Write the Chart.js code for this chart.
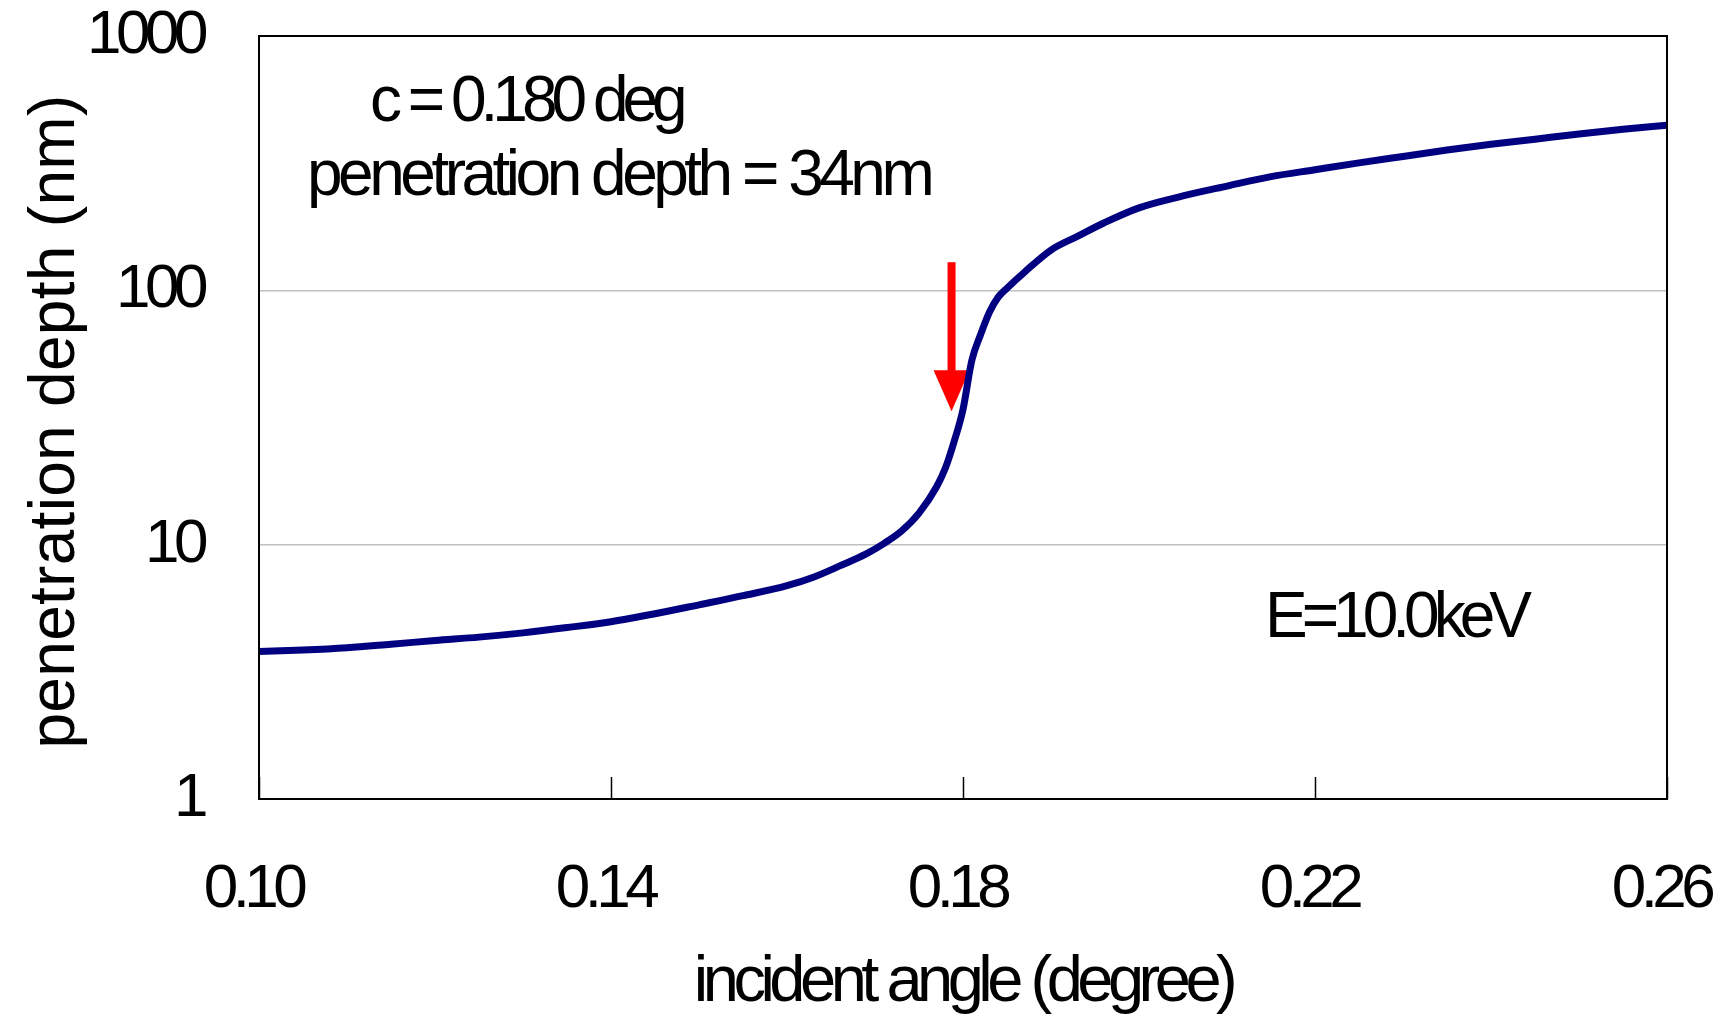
<!DOCTYPE html>
<html>
<head>
<meta charset="utf-8">
<script src="https://cdn.jsdelivr.net/npm/chart.js@4"></script>
<style>
  html, body { margin: 0; padding: 0; background: #fff; }
  #chart { display: block; }
</style>
</head>
<body>
<canvas id="chart" width="1722" height="1016"></canvas>
<script>
/* DATA */
const angles = [0.100, 0.105, 0.110, 0.115, 0.120, 0.125, 0.130, 0.135, 0.140, 0.145,
  0.150, 0.155, 0.160, 0.163, 0.166, 0.169, 0.171, 0.173, 0.175, 0.177,
  0.178, 0.179, 0.180, 0.181, 0.182, 0.183, 0.184, 0.185, 0.187, 0.190,
  0.193, 0.196, 0.200, 0.205, 0.210, 0.215, 0.220, 0.225, 0.230, 0.235,
  0.240, 0.245, 0.250, 0.255, 0.260];
const depths = [3.80, 3.85, 3.93, 4.06, 4.20, 4.33, 4.50, 4.72, 4.98, 5.35,
  5.80, 6.30, 6.90, 7.45, 8.25, 9.20, 10.1, 11.3, 13.3, 16.9,
  20.0, 25.5, 34, 53, 67, 82, 94, 102, 118, 144,
  163, 184, 211, 235, 257, 280, 298, 317, 336, 356,
  375, 393, 412, 430, 446];

const xTicks = [0.10, 0.14, 0.18, 0.22, 0.26];
const yTicks = [1, 10, 100, 1000];

// red arrow marking the critical angle (angle, from depth, to depth)
const arrowAngle = 0.1787;
const arrowFrom = 129;
const arrowTo = 33.5;

const notes = ["c = 0.180 deg", "penetration depth = 34nm", "E=10.0keV"];
const yTitle = "penetration depth (nm)";

/* STYLE */
const FONT = "'Liberation Sans', Arial, sans-serif";

/* PLUGINS */
const squeezePlugin = {
  id: "squeeze",
  beforeDraw(chart) {
    // the original labels are tightly set, like a narrow Arial
    chart.ctx.letterSpacing = "-5.5px";
  }
};

const arrowPlugin = {
  id: "arrow",
  beforeDatasetsDraw(chart) {
    const { ctx, scales: { x, y } } = chart;
    const px = x.getPixelForValue(arrowAngle);
    const top = y.getPixelForValue(arrowFrom);
    const tip = y.getPixelForValue(arrowTo);
    const headH = 41, headW = 36;
    ctx.save();
    ctx.fillStyle = "#ff0000";
    ctx.fillRect(px - 4, top, 8, tip - headH - top + 1);
    ctx.beginPath();
    ctx.moveTo(px - headW / 2, tip - headH);
    ctx.lineTo(px + headW / 2, tip - headH);
    ctx.lineTo(px, tip);
    ctx.closePath();
    ctx.fill();
    ctx.restore();
  }
};

const framePlugin = {
  id: "frame",
  afterDraw(chart) {
    const { ctx, chartArea: a, scales: { x } } = chart;
    ctx.save();
    ctx.strokeStyle = "#000";
    ctx.lineWidth = 2;
    ctx.strokeRect(a.left, a.top, a.right - a.left, a.bottom - a.top);
    // inward tick marks on the bottom axis
    ctx.lineWidth = 1.5;
    x.ticks.forEach(t => {
      const px = Math.round(x.getPixelForValue(t.value)) + 0.5;
      ctx.beginPath();
      ctx.moveTo(px, a.bottom);
      ctx.lineTo(px, a.bottom - 22);
      ctx.stroke();
    });

    // text boxes
    ctx.fillStyle = "#000";
    ctx.textBaseline = "alphabetic";
    ctx.textAlign = "left";
    ctx.font = `64px ${FONT}`;
    ctx.letterSpacing = "-6px";
    ctx.fillText(notes[0], 370, 121);
    ctx.letterSpacing = "-4.5px";
    ctx.fillText(notes[1], 307, 195);
    ctx.letterSpacing = "-6px";
    ctx.fillText(notes[2], 1265, 637);

    // y axis title, wider set than the rest
    ctx.letterSpacing = "0.3px";
    ctx.font = `64px ${FONT}`;
    ctx.textAlign = "center";
    ctx.textBaseline = "middle";
    ctx.translate(56, (a.top + a.bottom) / 2 + 4);
    ctx.rotate(-Math.PI / 2);
    ctx.fillText(yTitle, 0, 0);
    ctx.restore();
  }
};

const noOverhang = s => {
  s.paddingTop = 0;
  s.paddingBottom = 0;
  s.paddingLeft = 0;
  s.paddingRight = 0;
};

/* CHART */
new Chart(document.getElementById("chart"), {
  type: "line",
  data: {
    datasets: [{
      data: angles.map((a, i) => ({ x: a, y: depths[i] })),
      borderColor: "#000080",
      borderWidth: 7,
      pointRadius: 0,
      cubicInterpolationMode: "monotone",
      fill: false
    }]
  },
  options: {
    responsive: false,
    animation: false,
    layout: { padding: { top: 36, right: 55, left: 0, bottom: 0 } },
    plugins: {
      legend: { display: false },
      tooltip: { enabled: false }
    },
    scales: {
      x: {
        type: "linear",
        min: 0.10,
        max: 0.26,
        afterBuildTicks: s => { s.ticks = xTicks.map(v => ({ value: v })); },
        afterFit: s => { s.height = 217; noOverhang(s); },
        grid: { display: false, drawTicks: false },
        border: { display: false },
        ticks: {
          color: "#000",
          padding: 54,
          labelOffset: -6,
          maxRotation: 0,
          font: { family: FONT, size: 62 },
          callback: v => v.toFixed(2)
        },
        title: {
          display: true,
          text: "incident angle (degree)",
          color: "#000",
          font: { family: FONT, size: 65, lineHeight: 1.0 },
          padding: { top: 0, bottom: 0 }
        }
      },
      y: {
        type: "logarithmic",
        min: 1,
        max: 1000,
        afterBuildTicks: s => { s.ticks = yTicks.map(v => ({ value: v })); },
        afterFit: s => { s.width = 259; noOverhang(s); },
        grid: { color: "#c0c0c0", lineWidth: 1.5, drawTicks: false },
        border: { display: false },
        ticks: {
          color: "#000",
          padding: 56,
          font: { family: FONT, size: 62 },
          callback: v => String(v)
        }
      }
    }
  },
  plugins: [squeezePlugin, arrowPlugin, framePlugin]
});
</script>
</body>
</html>
